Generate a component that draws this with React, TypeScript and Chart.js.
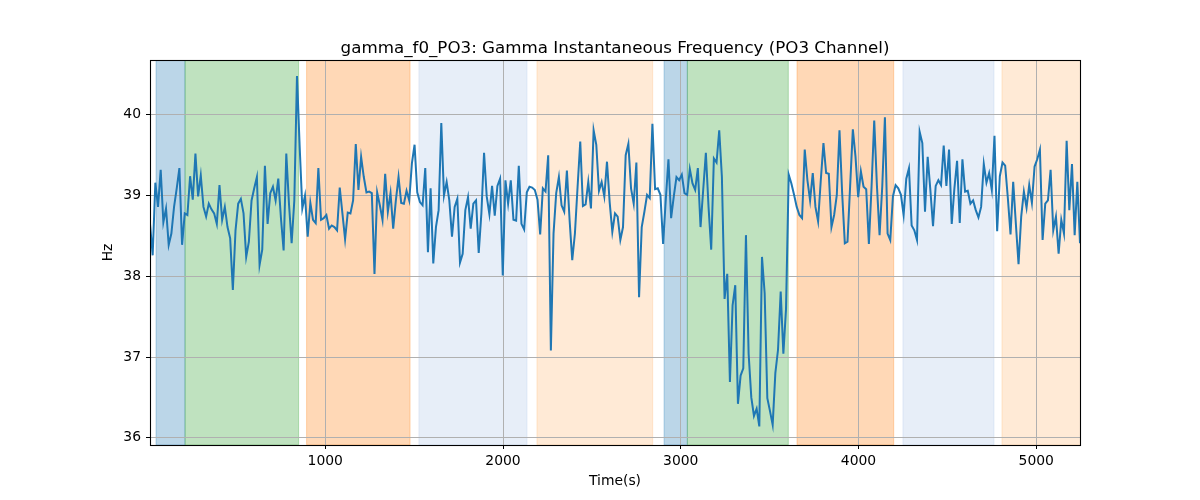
import React, { useEffect, useRef } from 'react';
import { Chart, ChartConfiguration, Plugin, registerables } from 'chart.js';

Chart.register(...registerables);

const TITLE = 'gamma_f0_PO3: Gamma Instantaneous Frequency (PO3 Channel)';
const X_LABEL = 'Time(s)';
const Y_LABEL = 'Hz';

// sample times run evenly from the first to the last reading
const T_FIRST = 14;
const T_LAST = 5246;

const FREQ: number[] = [
    38.65, 38.26, 39.16, 38.86, 39.32, 38.67, 38.84, 38.39, 38.53, 38.86,
    39.09, 39.34, 38.39, 38.78, 38.76, 39.24, 38.95, 39.52, 38.99, 39.25,
    38.86, 38.74, 38.90, 38.83, 38.78, 38.65, 39.13, 38.70, 38.86, 38.61,
    38.47, 37.83, 38.57, 38.90, 38.96, 38.78, 38.24, 38.43, 38.94, 39.09,
    39.23, 38.14, 38.33, 39.37, 38.65, 39.03, 39.11, 38.94, 39.21, 38.72,
    38.32, 39.52, 38.90, 38.41, 38.94, 40.48, 39.61, 38.84, 39.00, 38.49,

    38.91, 38.70, 38.66, 39.34, 38.70, 38.72, 38.76, 38.59, 38.63, 38.61,
    38.57, 39.10, 38.78, 38.46, 38.79, 38.78, 38.94, 39.64, 39.07, 39.48,
    39.23, 39.04, 39.05, 39.03, 38.03, 39.04, 38.88, 38.70, 39.27, 38.80,
    39.03, 38.59, 38.94, 39.23, 38.91, 38.90, 39.06, 38.94, 39.40, 39.63,
    39.04, 38.92, 38.88, 39.34, 38.30, 39.09, 38.16, 38.61, 38.82, 39.90,
    39.00, 39.17, 38.94, 38.49, 38.86, 38.96, 38.17, 38.28,

    38.82, 38.98, 38.59, 38.90, 38.94, 38.29, 38.78, 39.53, 38.99, 38.77,
    39.12, 38.75, 39.12, 39.21, 38.01, 39.19, 38.90, 39.19, 38.70, 38.69,
    39.37, 38.65, 38.58, 39.04, 39.11, 39.10, 39.07, 38.95, 38.52, 39.09,
    39.05, 39.50, 37.08, 38.53, 39.03, 39.23, 38.88, 38.80, 39.31, 38.70,
    38.20, 38.53, 39.11, 39.67, 38.87, 38.89, 39.17, 38.84, 39.81, 39.63,
    39.06, 39.17, 38.99, 39.42, 38.92, 38.55, 38.78, 38.74,

    38.45, 38.61, 39.50, 39.64, 39.09, 38.90, 39.41, 37.74, 38.61, 38.80,
    39.01, 38.97, 39.89, 39.08, 39.09, 39.01, 38.40, 38.95, 39.45, 38.72,
    38.99, 39.23, 39.19, 39.26, 39.03, 39.01, 39.33, 39.15, 39.07, 39.34,
    38.61, 39.07, 39.53, 38.86, 38.33, 39.46, 39.41, 39.81, 39.23, 37.72,
    38.03, 36.69, 37.64, 37.89, 36.42, 36.77, 36.86, 38.51, 37.04, 36.50,
    36.27, 36.36, 36.14, 38.24, 37.79, 36.49, 36.33, 36.16,
    36.80, 37.09, 37.81, 37.04, 37.60,

    39.26, 39.15, 39.01, 38.86, 38.76, 38.72, 39.57, 39.19, 38.94, 39.28,
    38.86, 38.68, 39.19, 39.65, 39.28, 39.27, 38.61, 38.76, 39.01, 39.81,
    39.03, 38.41, 38.43, 39.13, 39.82, 39.48, 38.98, 39.30, 39.11, 39.08,
    38.40, 39.11, 39.93, 39.13, 38.51, 39.11, 39.97, 38.53, 38.45, 38.99,
    39.13, 39.09, 39.01, 38.76, 39.21, 39.34, 38.63, 38.57, 38.45, 39.79,
    39.65, 38.80, 39.48,

    39.07, 38.62, 39.12, 39.19, 39.13, 39.62, 39.12, 39.57, 38.65, 39.09,
    39.43, 38.66, 39.45, 39.05, 39.06, 38.90, 38.94, 38.82, 38.73, 38.86,
    39.39, 39.16, 39.28, 39.07, 39.74, 38.56, 39.24, 39.41, 39.37, 38.97,
    38.52, 39.17, 38.65, 38.15, 38.74, 39.05, 38.85, 39.13, 38.91, 39.36,
    39.45, 39.57, 38.45, 38.90, 38.94, 39.32, 38.57, 38.74, 38.28, 38.70,
    38.53, 39.68, 38.82, 39.39, 38.51, 39.17, 38.41,
];

// shaded phases along the time axis
const SPAN_START = [48, 211, 895, 1527, 2191, 2906, 3037, 3654, 4250, 4807];
const SPAN_END = [211, 850, 1477, 2135, 2842, 3037, 3605, 4198, 4762, 5300];
const SPAN_KIND = ['blue', 'green', 'orange', 'lightblue', 'lightorange',
    'blue', 'green', 'orange', 'lightblue', 'lightorange'];

const X_TICKS = [1000, 2000, 3000, 4000, 5000];
const Y_TICKS = [36, 37, 38, 39, 40];
const X_MIN = 14;
const X_MAX = 5246;
const Y_MIN = 35.91;
const Y_MAX = 40.68;

const SPAN_COLORS: Record<string, string> = {
    blue: 'rgba(31, 119, 180, 0.3)',
    green: 'rgba(44, 160, 44, 0.3)',
    orange: 'rgba(255, 127, 14, 0.3)',
    lightblue: 'rgba(174, 199, 232, 0.3)',
    lightorange: 'rgba(255, 187, 120, 0.3)',
};

const FONT = 'DejaVu Sans';

const spansPlugin: Plugin = {
    id: 'spans',
    beforeDraw(chart) {
        const { ctx, chartArea, scales } = chart;
        const xs = scales.x;
        ctx.save();
        ctx.beginPath();
        ctx.rect(chartArea.left, chartArea.top, chartArea.width, chartArea.height);
        ctx.clip();
        SPAN_START.forEach((s, i) => {
            const x0 = xs.getPixelForValue(s);
            const x1 = xs.getPixelForValue(SPAN_END[i]);
            const c = SPAN_COLORS[SPAN_KIND[i]];
            ctx.fillStyle = c;
            ctx.fillRect(x0, chartArea.top, x1 - x0, chartArea.height);
            ctx.strokeStyle = c;
            ctx.lineWidth = 1;
            ctx.strokeRect(x0, chartArea.top, x1 - x0, chartArea.height);
        });
        ctx.restore();
    },
};

const framePlugin: Plugin = {
    id: 'frame',
    afterDraw(chart) {
        const { ctx, chartArea } = chart;
        ctx.save();
        ctx.strokeStyle = '#000';
        ctx.lineWidth = 1.1;
        ctx.strokeRect(
            Math.round(chartArea.left) + 0.5,
            Math.round(chartArea.top) + 0.5,
            Math.round(chartArea.width),
            Math.round(chartArea.height)
        );
        // title, centred over the axes
        ctx.fillStyle = '#000';
        ctx.font = `16.7px "${FONT}"`;
        ctx.textAlign = 'center';
        ctx.textBaseline = 'alphabetic';
        ctx.fillText(TITLE, (chartArea.left + chartArea.right) / 2, 52.5);
        ctx.restore();
    },
};

const FreqChart: React.FC = () => {
    const canvasRef = useRef<HTMLCanvasElement>(null);
    const chartRef = useRef<Chart | null>(null);

    useEffect(() => {
        if (!canvasRef.current) return;
        if (chartRef.current) chartRef.current.destroy();

        const step = (T_LAST - T_FIRST) / (FREQ.length - 1);
        const points = FREQ.map((v, i) => ({ x: T_FIRST + i * step, y: v }));

        const config: ChartConfiguration = {
            type: 'line',
            data: {
                datasets: [{
                    label: 'gamma_f0_PO3',
                    data: points,
                    borderColor: '#1f77b4',
                    borderWidth: 2,
                    pointRadius: 0,
                    tension: 0,
                    fill: false,
                }],
            },
            options: {
                animation: false,
                responsive: true,
                maintainAspectRatio: false,
                layout: { padding: { left: 95, right: 120, top: 60, bottom: 0 } },
                plugins: {
                    legend: { display: false },
                    tooltip: { enabled: false },
                    title: { display: false },
                },
                scales: {
                    x: {
                        type: 'linear',
                        min: X_MIN,
                        max: X_MAX,
                        afterBuildTicks: (s: any) => { s.ticks = X_TICKS.map(v => ({ value: v })); },
                        afterFit: (s: any) => { s.height = 55; },
                        grid: { color: '#b0b0b0', lineWidth: 1, tickColor: '#000', tickLength: 4, drawTicks: true },
                        border: { display: false },
                        ticks: {
                            color: '#000', padding: 4, maxRotation: 0,
                            font: { family: FONT, size: 13.9 },
                            callback: (v: any) => String(v),
                        },
                        title: { display: true, text: X_LABEL, color: '#000', padding: { top: 0, bottom: 10 }, font: { family: FONT, size: 13.9 } },
                    },
                    y: {
                        type: 'linear',
                        min: Y_MIN,
                        max: Y_MAX,
                        afterBuildTicks: (s: any) => { s.ticks = Y_TICKS.map(v => ({ value: v })); },
                        afterFit: (s: any) => { s.width = 55; },
                        grid: { color: '#b0b0b0', lineWidth: 1, tickColor: '#000', tickLength: 4, drawTicks: true },
                        border: { display: false },
                        ticks: {
                            color: '#000', padding: 5,
                            font: { family: FONT, size: 13.9 },
                            callback: (v: any) => String(v),
                        },
                        title: { display: true, text: Y_LABEL, color: '#000', padding: { top: 5, bottom: 0 }, font: { family: FONT, size: 13.9 } },
                    },
                },
            },
            plugins: [spansPlugin, framePlugin],
        };

        chartRef.current = new Chart(canvasRef.current, config);

        return () => {
            if (chartRef.current) {
                chartRef.current.destroy();
                chartRef.current = null;
            }
        };
    }, []);

    return <canvas ref={canvasRef} />;
};

export default function App() {
    return (
        <div style={{ position: 'absolute', left: 0, top: 0, width: 1200, height: 500, background: '#fff' }}>
            <FreqChart />
        </div>
    );
}
